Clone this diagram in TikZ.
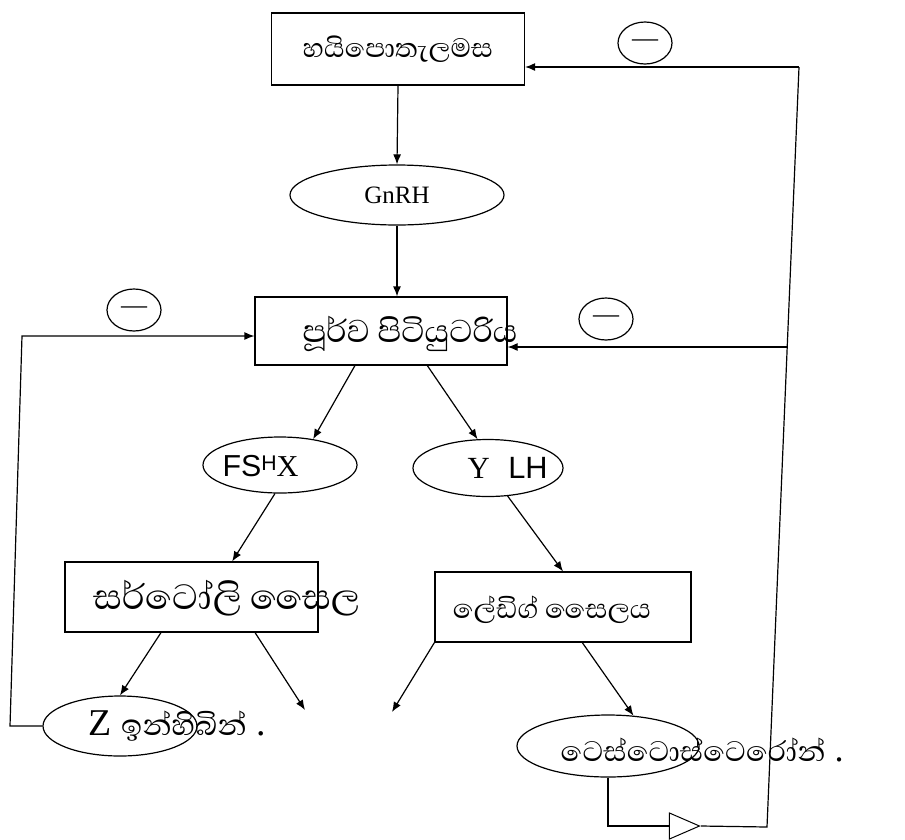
\documentclass[tikz,border=0pt]{standalone}
\usepackage{fontspec}
\setmainfont{Liberation Serif}
\newfontfamily\sinhala[Script=Sinhala]{Abhaya Libre}
\newfontfamily\handfont{Liberation Sans}
\usetikzlibrary{arrows.meta,shapes.geometric,calc}
\newcommand\fitw[2]{\resizebox{#1}{!}{#2}}
\begin{document}
\begin{tikzpicture}[x=1pt,y=-1pt,line width=1.2pt,
  arr/.style={-{Latex[length=10pt,width=8pt]}},
  boxnode/.style={draw,rectangle,inner sep=0pt},
  ovalnode/.style={draw,ellipse,inner sep=0pt},
  minusnode/.style={draw,ellipse,minimum width=54pt,minimum height=42pt,inner sep=0pt,font=\fontsize{26}{26}\selectfont},
  txt/.style={inner sep=0pt}]
\path[use as bounding box] (0,0) rectangle (905,839);
\fill[white] (0,0) rectangle (905,839);

% boxes and ovals
\node[boxnode,minimum width=253pt,minimum height=72pt] (hyp) at (398,49) {\fitw{190pt}{\sinhala හයිපොතැලමස}};
\node[ovalnode,minimum width=214pt,minimum height=60pt] (gn) at (397,195) {\fontsize{25}{25}\selectfont GnRH};
\node[boxnode,minimum width=252pt,minimum height=68pt] (pit) at (381,331) {};
\node[txt,anchor=west] (pitt) at (302,334) {\fitw{215pt}{\sinhala පූර්ව පිටියුටරිය}};
\node[ovalnode,minimum width=154pt,minimum height=56pt] (fsh) at (280,465) {};
\node[txt,anchor=west] (fsht) at (222,466) {\fitw{76pt}{{\handfont FS\raisebox{.35ex}{\scriptsize H}}X}};
\node[ovalnode,minimum width=150pt,minimum height=57pt] (lh) at (488,468) {};
\node[txt,anchor=west] (lht) at (467,468) {\fitw{80pt}{Y\hspace{0.6em}{\handfont LH}}};
\node[boxnode,minimum width=253pt,minimum height=70pt] (ser) at (191.5,597) {};
\node[txt,anchor=west] (sert) at (93,598) {\fitw{267pt}{\sinhala සර්ටෝලි සෛල}};
\node[boxnode,minimum width=256pt,minimum height=70pt] (ley) at (563,607) {};
\node[txt] (leyt) at (552,610) {\fitw{198pt}{\sinhala ලේඩිග් සෛලය}};
\node[ovalnode,minimum width=154pt,minimum height=60pt] (zel) at (120,726) {};
\node[txt,anchor=west] (zelt) at (88,726) {\fitw{177pt}{Z {\sinhala ඉන්හිබින්} .}};
\node[ovalnode,minimum width=182pt,minimum height=62pt] (tel) at (608,746) {};
\node[txt,anchor=west] (telt) at (560,750) {\fitw{283pt}{{\sinhala ටෙස්ටොස්ටෙරෝන්} .}};

% minus signs
\node[minusnode] (m1) at (645,43) {—};
\node[minusnode] (m2) at (134,310) {—};
\node[minusnode] (m3) at (606,319) {—};

% coordinates
\coordinate (lt) at (22,336);
\coordinate (lb) at (10,726);
\coordinate (rt) at (799,67);
\coordinate (rm) at (787,347);
\coordinate (rb) at (767,827);
\coordinate (sfree) at (305,710);
\coordinate (lfree) at (392,712);

\node[draw,fill=white,isosceles triangle,isosceles triangle stretches,minimum width=26pt,minimum height=30pt,inner sep=0pt,line width=1pt] (tri) at (678,826) {};

% main flow
\draw[arr] (hyp.south) -- (gn.north);
\draw[arr] (gn.south) -- (gn.south |- pit.north);
\draw[arr] ($(pit.south west)!0.397!(pit.south east)$) -- (fsh.38);
\draw[arr] ($(pit.south west)!0.683!(pit.south east)$) -- (lh.110);
\draw[arr] (fsh.-100) -- ($(ser.north west)!0.66!(ser.north east)$);
\draw[arr] (lh.-55) -- (ley.north);
\draw[arr] ($(ser.south west)!0.38!(ser.south east)$) -- (zel.north);
\draw[arr] ($(ser.south west)!0.75!(ser.south east)$) -- (sfree);
\draw[arr] (ley.south west) -- (lfree);
\draw[arr] ($(ley.south west)!0.575!(ley.south east)$) -- (tel.50);

% feedback loops
\draw[arr] (zel.west) -- (lb) -- (lt) -- (lt -| pit.west);
\draw (tel.south) |- (tri.lower side);
\draw (tri.apex) -- (rb) -- (rt);
\draw[arr] (rt) -- (rt -| hyp.east);
\draw[arr] (rm) -- (rm -| pit.east);
\end{tikzpicture}
\end{document}
